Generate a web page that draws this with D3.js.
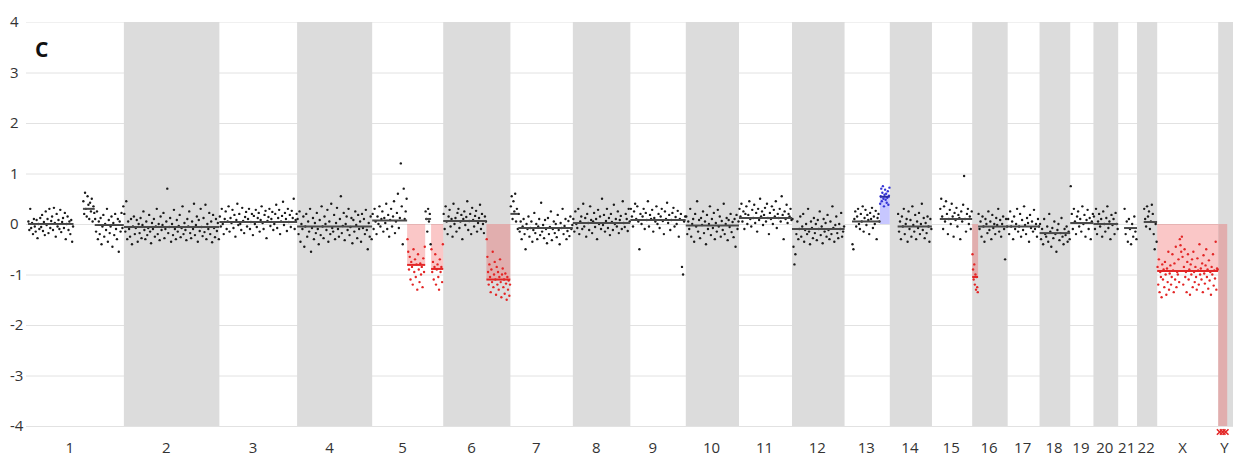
<!DOCTYPE html>
<html>
<head>
<meta charset="utf-8">
<script src="https://cdn.jsdelivr.net/npm/d3@7"></script>
<style>
  body { margin: 0; background: #fff; }
  text { font-family: "Open Sans", "Noto Sans", sans-serif; fill: #333; }
</style>
</head>
<body>
<div id="chart"></div>
<script>
// chromosomes and their lengths (Mb)
var chromNames = ["1","2","3","4","5","6","7","8","9","10","11","12","13","14","15","16","17","18","19","20","21","22","X","Y"];
var chromLengths = [249.25,243.2,198.0,191.15,180.9,171.1,159.1,146.4,141.2,135.5,135.0,133.85,115.2,107.35,102.5,90.35,81.2,78.1,59.1,63.0,48.1,51.3,155.3,59.4];

var yTicks = [4, 3, 2, 1, 0, -1, -2, -3, -4];

// segments: [chromosome index, start Mb, end Mb, mean log2 ratio]
var segments = [
  [0, 5, 121, 0.0], [0, 145, 175, 0.3], [0, 175, 249, -0.02],
  [1, 0, 243, -0.06],
  [2, 0, 198, 0.04],
  [3, 0, 191, -0.05],
  [4, 0, 89, 0.07], [4, 89, 135, -0.81], [4, 135, 150, 0.1], [4, 150, 181, -0.89],
  [5, 0, 110, 0.06], [5, 110, 171, -1.1],
  [6, 0, 20, 0.2], [6, 20, 159, -0.08],
  [7, 0, 146, 0.02],
  [8, 0, 141, 0.08],
  [9, 0, 135.5, -0.03],
  [10, 0, 135, 0.12],
  [11, 0, 133.85, -0.1],
  [12, 19, 90, 0.05], [12, 90, 115, 0.54],
  [13, 20, 107, -0.05],
  [14, 20, 102.5, 0.1],
  [15, 0, 15, -1.05], [15, 15, 90, -0.05],
  [16, 0, 81, -0.05],
  [17, 0, 78, -0.18],
  [18, 0, 59, 0.02],
  [19, 0, 63, 0.0],
  [20, 15, 48, -0.08],
  [21, 17, 51, 0.04],
  [22, 0, 155, -0.93],
  [23, 0, 23, -4]
];

// call of each segment
var segCalls = ["n","n","n","n","n","n","n","loss","n","loss","n","loss","n","n","n","n","n","n","n",
  "n","gain","n","n","loss","n","n","n","n","n","n","n","loss","loss"];

// probe log2 ratios per segment
var probes = [
  [0.05,-0.12,0.3,-0.08,0.02,-0.2,0.1,-0.05,-0.15,0.08,-0.28,0.0,-0.1,0.12,-0.06,0.18,-0.14,0.04,-0.22,0.25,-0.02,0.1,-0.18,0.3,-0.08,0.06,0.15,-0.12,0.32,0.02,-0.25,0.2,-0.05,0.08,-0.1,0.28,-0.16,0.04,0.12,-0.08,0.22,-0.3,0.0,0.15,-0.12,0.05,-0.2,0.08,-0.35,-0.05],
  [0.45,0.2,0.62,0.3,0.15,0.55,0.38,0.1,0.42,0.25,0.5,0.05,0.35,0.22],
  [0.1,-0.15,0.25,-0.3,0.05,-0.2,0.12,-0.4,-0.05,0.18,-0.25,0.0,-0.12,0.3,-0.35,0.08,-0.18,-0.05,0.15,-0.45,0.02,-0.22,0.2,-0.1,-0.3,0.1,-0.55,0.05,-0.15,0.22,-0.08,0.35],
  [0.2,-0.15,0.45,-0.3,0.05,-0.1,-0.25,0.1,-0.4,-0.05,0.15,-0.2,-0.08,0.08,-0.35,0.0,-0.18,0.12,-0.28,-0.02,
   0.25,-0.12,-0.3,0.05,-0.22,-0.08,0.18,-0.15,-0.38,0.02,-0.1,0.1,-0.25,-0.05,0.3,-0.2,0.0,-0.32,0.15,-0.12,
   -0.02,0.22,-0.28,-0.1,0.05,0.7,-0.18,-0.06,0.12,-0.35,0.0,-0.22,0.28,-0.1,-0.3,0.08,-0.15,-0.04,0.18,-0.26,
   -0.08,0.35,-0.2,0.02,-0.12,-0.32,0.1,-0.05,0.25,-0.18,-0.28,0.05,-0.1,0.4,-0.22,-0.02,0.15,-0.35,0.08,-0.14,
   0.3,-0.06,-0.24,0.12,-0.16,0.38,-0.3,0.0,-0.1,0.22,-0.2,0.05,-0.36,0.18,-0.08,-0.26,0.1,-0.14,0.02,-0.3],
  [0.15,-0.05,0.3,0.0,-0.2,0.1,0.25,-0.1,0.05,0.35,-0.15,0.12,0.02,0.28,-0.08,0.18,-0.25,0.08,0.4,-0.02,
   0.2,0.0,-0.12,0.32,0.06,-0.18,0.14,0.24,-0.05,0.1,0.3,-0.1,0.04,0.2,-0.22,0.16,0.0,0.28,-0.06,0.12,
   0.22,-0.15,0.08,0.35,0.02,-0.1,0.18,0.26,-0.28,0.06,0.14,0.3,-0.04,0.1,0.24,-0.12,0.0,0.2,0.38,-0.08,
   0.12,0.28,-0.2,0.05,0.16,0.44,-0.02,0.22,0.1,-0.14,0.3,0.04,0.18,-0.06,0.26,0.12,0.5,-0.1,0.08,0.2],
  [0.1,-0.2,0.25,-0.35,0.0,-0.1,0.15,-0.45,-0.05,0.2,-0.25,0.05,-0.15,0.3,-0.55,-0.08,0.12,-0.3,0.02,-0.18,
   0.22,-0.1,-0.4,0.08,-0.22,0.35,-0.05,-0.28,0.15,0.0,-0.12,0.28,-0.35,0.05,-0.2,0.4,-0.08,-0.15,0.18,-0.3,
   0.02,0.32,-0.1,-0.25,0.1,0.55,-0.18,-0.04,0.22,-0.32,0.0,0.15,-0.12,0.3,-0.22,-0.06,0.12,-0.38,0.08,-0.15,
   0.25,-0.02,-0.28,0.18,-0.1,0.05,-0.35,0.2,-0.08,0.1,-0.2,0.28,-0.12,-0.5,0.02,-0.25,0.15,-0.3],
  [0.2,-0.1,0.3,0.05,-0.2,0.15,0.0,0.35,-0.05,0.1,0.25,-0.15,0.12,0.02,0.4,-0.1,0.18,-0.25,0.08,0.3,
   -0.05,0.15,0.45,-0.18,0.05,0.22,0.6,-0.08,0.12,1.2,0.35,-0.4,0.7,0.1,0.25,0.5],
  [-0.3,-0.55,-0.9,-0.65,-1.1,-0.75,-0.85,-1.2,-0.5,-0.95,-0.7,-1.05,-0.8,-1.3,-0.6,-0.9,-1.15,-0.78,-1.0,-0.85,-1.25,-0.68,-0.95,-0.45],
  [0.25,0.1,-0.15,0.3,0.05,0.2,-0.4],
  [-0.5,-0.95,-0.75,-1.1,-0.85,-0.6,-1.2,-0.9,-0.8,-1.05,-1.3,-0.7,-0.95,-0.85,-1.15,-0.4],
  [0.2,-0.1,0.35,0.05,-0.2,0.15,0.28,-0.05,0.1,-0.25,0.4,0.0,0.12,-0.15,0.22,0.3,-0.08,0.05,0.18,-0.3,
   0.1,0.25,-0.02,0.14,0.45,-0.12,0.06,0.2,-0.2,0.32,0.08,-0.05,0.16,0.26,-0.15,0.02,0.12,0.38,-0.1,0.2,
   0.0,-0.18,0.15,0.05],
  [-0.3,-0.65,-0.95,-1.2,-0.8,-1.05,-1.35,-0.9,-1.15,-0.55,-1.25,-1.0,-0.75,-1.1,-1.4,-0.85,-1.2,-0.95,-1.3,-1.05,
   -0.7,-1.15,-1.45,-1.0,-0.88,-1.25,-1.1,-1.38,-0.98,-1.18,-1.5,-1.05,-1.3,-1.12,-1.42,-1.2],
  [0.35,0.55,0.1,0.45,0.25,0.6,0.05,0.3,-0.1],
  [0.2,-0.15,0.05,-0.3,-0.05,0.1,-0.2,-0.5,0.0,-0.1,0.15,-0.25,-0.08,0.05,-0.35,-0.12,0.22,-0.18,0.0,-0.3,
   -0.05,0.1,-0.22,0.42,-0.15,-0.02,-0.28,0.08,-0.1,-0.38,0.12,-0.2,-0.06,0.25,-0.32,-0.1,0.05,-0.18,0.0,-0.26,
   0.18,-0.12,-0.4,0.02,-0.08,0.3,-0.2,-0.04,0.1,-0.3,-0.14,0.06,-0.24,0.15,-0.1,-0.02],
  [0.1,-0.15,0.25,0.0,-0.08,0.3,-0.2,0.05,0.15,-0.1,0.4,-0.05,0.12,-0.25,0.2,0.02,-0.12,0.35,0.08,-0.18,
   0.05,0.22,-0.06,0.1,-0.3,0.28,0.0,0.15,-0.1,0.5,-0.02,0.18,-0.15,0.06,0.3,-0.08,0.12,-0.22,0.2,0.04,
   -0.12,0.38,0.0,0.1,-0.05,0.25,-0.18,0.08,0.16,-0.1,0.45,0.02,-0.06,0.2,0.1,-0.14,0.3,0.05],
  [0.3,0.15,-0.05,0.25,0.4,0.1,0.35,0.05,-0.5,0.2,0.0,0.15,0.3,-0.1,0.22,0.08,0.45,-0.05,0.18,0.1,
   0.28,-0.15,0.12,0.05,0.35,0.0,0.2,-0.08,0.15,0.3,0.06,-0.2,0.25,0.1,0.42,0.02,0.18,-0.12,0.08,0.22,
   0.32,-0.05,0.14,0.0,0.26,-0.25,0.1,0.2,-0.85,-1.0,0.05,0.15],
  [0.15,-0.2,0.05,-0.1,0.3,-0.25,0.0,0.1,-0.35,0.2,-0.05,0.45,-0.15,0.08,-0.28,0.12,-0.02,0.25,-0.18,0.05,
   -0.4,0.18,-0.1,0.0,0.35,-0.22,0.1,-0.08,0.22,-0.3,0.02,-0.15,0.28,-0.05,0.15,-0.25,0.06,-0.12,0.4,-0.2,
   0.0,0.12,-0.32,0.08,-0.06,0.2,-0.16,0.04,-0.26,0.1,-0.45,0.18,-0.1,0.05],
  [0.3,0.15,0.4,0.05,0.25,-0.1,0.2,0.35,0.0,0.18,0.45,0.1,-0.05,0.28,0.12,0.38,0.02,0.22,-0.15,0.3,
   0.08,0.5,0.15,0.25,-0.02,0.18,0.32,0.05,0.4,0.12,-0.2,0.22,0.1,0.35,0.0,0.28,0.15,0.45,-0.08,0.2,
   0.12,0.3,0.05,0.55,0.18,-0.3,0.25,0.1,0.38,0.02,0.2,0.15,0.3,0.08],
  [0.1,-0.45,-0.8,-0.6,-0.2,0.05,-0.3,-0.1,0.15,-0.25,-0.05,0.2,-0.35,-0.12,0.0,-0.2,0.3,-0.15,-0.4,0.05,
   -0.08,-0.28,0.12,-0.18,0.0,-0.32,0.08,-0.1,0.25,-0.22,-0.05,-0.38,0.1,-0.15,0.02,-0.25,0.18,-0.12,-0.3,0.05,
   -0.2,0.35,-0.08,-0.35,-0.02,0.15,-0.18,-0.28,0.0,-0.1,0.22,-0.25,-0.15,-0.05],
  [-0.4,-0.5,0.1,0.25,-0.05,0.15,0.3,0.0,-0.1,0.2,0.05,0.35,-0.15,0.12,0.28,-0.02,0.18,0.08,-0.2,0.22,
   0.1,0.32,-0.08,0.15,0.0,0.26,-0.3,0.12,0.2,0.05],
  [0.4,0.55,0.7,0.45,0.62,0.75,0.5,0.35,0.58,0.68,0.48,0.6,0.42,0.52,0.65,0.38,0.56,0.72],
  [0.2,-0.15,0.05,-0.3,0.15,-0.05,0.3,-0.2,0.0,0.1,-0.35,0.25,-0.1,0.08,-0.25,0.35,-0.02,-0.15,0.18,-0.3,
   0.05,-0.08,0.22,-0.2,0.0,0.4,-0.12,0.12,-0.28,0.02,-0.18,0.15,-0.05,-0.35,0.1,-0.1],
  [0.3,0.5,0.15,-0.1,0.35,0.05,0.45,0.2,-0.2,0.1,0.28,0.0,0.4,0.15,-0.25,0.22,0.08,0.32,-0.05,0.18,
   0.12,-0.3,0.25,0.05,0.38,0.95,0.1,-0.15,0.2,0.3,0.0,0.15,-0.1,0.25],
  [-0.6,-0.9,-1.1,-0.8,-1.2,-1.0,-1.3,-1.05,-1.25,-1.35],
  [0.2,-0.1,0.05,-0.25,0.15,-0.05,-0.35,0.1,0.0,-0.18,0.25,-0.12,0.05,-0.3,0.18,-0.08,0.0,-0.2,0.12,-0.02,
   0.3,-0.15,0.08,-0.25,0.0,0.15,-0.1,-0.7,0.1,-0.05],
  [0.1,-0.2,0.25,-0.05,0.05,-0.3,0.15,-0.1,0.0,0.3,-0.15,-0.05,0.2,-0.25,0.08,-0.12,0.35,-0.02,-0.2,0.12,
   0.02,-0.35,0.18,-0.08,0.05,-0.15,0.28,-0.1,0.0,-0.25,0.1,-0.05],
  [0.0,-0.3,-0.1,-0.4,0.1,-0.2,-0.25,-0.05,-0.35,0.2,-0.15,-0.45,-0.08,-0.28,0.05,-0.2,-0.55,-0.12,0.0,-0.32,
   -0.18,0.12,-0.25,-0.4,-0.1,-0.22,-0.05,-0.35,-0.15,-0.3],
  [0.75,0.2,-0.1,0.3,0.05,-0.2,0.15,0.25,-0.05,0.1,-0.15,0.35,0.0,0.18,-0.25,0.08,0.28,-0.1,0.12,-0.3,0.05,0.2],
  [0.15,-0.1,0.3,-0.2,0.05,0.2,-0.05,0.1,-0.25,0.25,0.0,-0.15,0.12,0.35,-0.08,0.05,-0.3,0.18,-0.02,0.1,
   -0.2,0.22,0.0,-0.1],
  [0.3,-0.2,0.05,-0.35,0.1,-0.1,-0.4,0.0,-0.25,0.15,-0.15,-0.3],
  [0.3,0.1,-0.05,0.35,0.15,0.25,-0.1,0.05,0.38,0.2,-0.2,-0.5,0.0,-0.35],
  [-0.85,-1.2,-0.7,-1.35,-0.95,-1.05,-1.45,-0.8,-1.1,-0.9,-1.25,-0.75,-1.0,-1.4,-0.88,-1.15,-0.55,-1.3,-0.98,-0.82,
   -1.2,-1.05,-0.6,-0.92,-1.35,-0.78,-1.1,-0.45,-1.25,-0.95,-1.0,-0.7,-1.15,-0.3,-0.42,-0.55,-0.25,-0.65,-1.2,-0.85,
   -0.5,-1.05,-0.95,-1.35,-0.75,-0.6,-1.1,-0.9,-1.4,-0.8,-1.0,-0.7,-1.25,-0.55,-0.95,-1.15,-0.85,-1.05,-1.3,-0.68,
   -0.92,-1.2,-0.4,-1.0,-0.88,-1.1,-0.78,-1.35,-0.62,-0.98,-1.18,-0.82,-0.5,-1.05,-0.9,-1.28,-0.72,-1.12,-0.95,-1.4,
   -0.85,-1.0,-0.6,-1.22,-0.92,-1.08,-0.35,-1.3,-0.88,-0.9],
  [-4.12,-4.12,-4.12]
];

var width = 1233, height = 456;

var svg = d3.select('#chart')
  .append('svg')
  .attr('width', width)
  .attr('height', height);

// cumulative chromosome offsets
var offsets = [];
var total = 0;
chromLengths.forEach(function(len) {
  offsets.push(total);
  total += len;
});

var x = d3.scaleLinear().domain([0, total]).range([26, 1241.5]);
var y = d3.scaleLinear().domain([-4, 4]).range([426, 22]);

var colors = { n: '#1a1a1a', loss: '#e32626', gain: '#3535d6' };
var lineColors = { n: '#4a4a4a', loss: '#e32626', gain: '#2a2aa8' };
var fills = { loss: '#ee4444', gain: '#4444ff' };

// horizontal grid lines
svg.selectAll('line.grid')
  .data(yTicks)
  .enter()
  .append('line')
  .attr('class', 'grid')
  .attr('x1', 26)
  .attr('x2', width)
  .attr('y1', function(d) { return y(d) + 0.5; })
  .attr('y2', function(d) { return y(d) + 0.5; })
  .attr('stroke', function(d) { return d == 4 ? '#f0f0f0' : '#e2e2e2'; })
  .attr('stroke-width', 1);

// alternating chromosome bands
svg.selectAll('rect.band')
  .data(chromNames.filter(function(d, i) { return i % 2 == 1; }))
  .enter()
  .append('rect')
  .attr('class', 'band')
  .attr('x', function(d) { var i = chromNames.indexOf(d); return x(offsets[i]); })
  .attr('width', function(d) { var i = chromNames.indexOf(d); return x(offsets[i] + chromLengths[i]) - x(offsets[i]); })
  .attr('y', y(4))
  .attr('height', y(-4) - y(4))
  .attr('fill', '#dcdcdc');

// shaded areas for gains and losses
var called = segments.map(function(s, i) { return { s: s, call: segCalls[i] }; })
  .filter(function(d) { return d.call != 'n'; });

svg.selectAll('rect.call')
  .data(called)
  .enter()
  .append('rect')
  .attr('class', 'call')
  .attr('x', function(d) { return x(offsets[d.s[0]] + d.s[1]); })
  .attr('width', function(d) { return x(offsets[d.s[0]] + d.s[2]) - x(offsets[d.s[0]] + d.s[1]); })
  .attr('y', function(d) { return Math.min(y(0), y(d.s[3])); })
  .attr('height', function(d) { return Math.abs(y(d.s[3]) - y(0)); })
  .attr('fill', function(d) { return fills[d.call]; })
  .attr('fill-opacity', 0.3);

// probe points
var points = [];
segments.forEach(function(s, i) {
  var vals = probes[i];
  vals.forEach(function(v, j) {
    points.push({
      pos: offsets[s[0]] + s[1] + (j + 0.5) / vals.length * (s[2] - s[1]),
      value: v,
      call: segCalls[i]
    });
  });
});

svg.selectAll('circle.probe')
  .data(points.filter(function(d) { return d.value >= -4; }))
  .enter()
  .append('circle')
  .attr('class', 'probe')
  .attr('cx', function(d) { return x(d.pos); })
  .attr('cy', function(d) { return y(d.value); })
  .attr('r', 1.2)
  .attr('fill', function(d) { return colors[d.call]; });

// values below the axis shown as crosses
svg.selectAll('path.clipped')
  .data(points.filter(function(d) { return d.value < -4; }))
  .enter()
  .append('path')
  .attr('class', 'clipped')
  .attr('d', d3.symbol(d3.symbolX, 22))
  .attr('transform', function(d) { return 'translate(' + x(d.pos) + ',' + (y(-4) + 6) + ')'; })
  .attr('stroke', '#e32626')
  .attr('stroke-width', 1.6)
  .attr('fill', 'none');

// segment means
svg.selectAll('line.seg')
  .data(segments.map(function(s, i) { return { s: s, call: segCalls[i] }; }).filter(function(d) { return d.s[3] > -4; }))
  .enter()
  .append('line')
  .attr('class', 'seg')
  .attr('x1', function(d) { return x(offsets[d.s[0]] + d.s[1]); })
  .attr('x2', function(d) { return x(offsets[d.s[0]] + d.s[2]); })
  .attr('y1', function(d) { return y(d.s[3]); })
  .attr('y2', function(d) { return y(d.s[3]); })
  .attr('stroke', function(d) { return lineColors[d.call]; })
  .attr('stroke-width', 2);

// y axis labels
svg.selectAll('text.ylab')
  .data(yTicks)
  .enter()
  .append('text')
  .attr('class', 'ylab')
  .attr('x', 10)
  .attr('y', function(d) { return y(d) + 5; })
  .style('font-size', '15px')
  .text(function(d) { return d; });

// chromosome labels
svg.selectAll('text.xlab')
  .data(chromNames)
  .enter()
  .append('text')
  .attr('class', 'xlab')
  .attr('x', function(d, i) { return x(offsets[i] + chromLengths[i] / 2) - 9.5; })
  .attr('y', 453)
  .style('font-size', '15px')
  .text(function(d) { return d; });

// panel letter
svg.append('text')
  .attr('x', 35)
  .attr('y', 57)
  .style('font-size', '21px')
  .style('font-weight', 'bold')
  .style('fill', '#111')
  .text('C');
</script>
</body>
</html>
